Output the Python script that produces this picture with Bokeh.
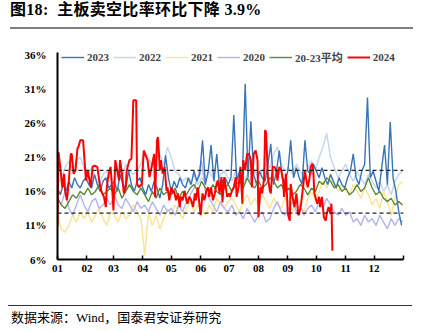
import numpy as np
from bokeh.plotting import figure
from bokeh.layouts import column
from bokeh.models import Range1d, FixedTicker, Span, Div, Legend, LegendItem
from bokeh.embed import file_html
from bokeh.resources import INLINE

# ---------------- data ----------------
month_labels = ["01", "02", "03", "04", "05", "06", "07", "08", "09", "10", "11", "12", ""]
month_start = [1, 32, 60, 91, 121, 152, 182, 213, 244, 274, 305, 335, 366]
y_ticks = [6, 11, 16, 21, 26, 31, 36]
upper_band = 19.1
lower_band = 12.8

# 2023, sampled every 3 days from Jan 1
v2023 = [16.5, 15.5, 17, 16, 17.5, 16.5, 18, 17, 16.5, 17.5, 18,
         17, 16.5, 18.5, 17, 16, 17.5, 18, 16.5, 17,
         17.5, 16, 18.5, 17, 16.5, 19, 17, 16, 17.5, 18,
         16.5, 15.5, 17, 16, 17.5, 16.5, 15, 17, 21.3, 18,
         16, 17.5, 16.5, 18, 17, 16.5, 18, 17, 19, 17.5,
         18.5, 23.5, 17, 19, 22.8, 17.5, 21.5, 16.5, 17.5, 18,
         17, 18, 27.2, 17.5, 19, 18, 31.8, 18, 26.3, 18.5,
         17, 19, 18, 17.5, 20, 23, 17, 19, 22, 18,
         17.5, 19, 23.5, 18, 19.5, 18, 17, 23.5, 19, 18.5,
         20, 19, 18, 19.5, 18, 17, 18.5, 17.5, 16.5, 18,
         17, 16.5, 18, 19, 21.5, 18, 17, 19, 20, 29.8,
         18, 19, 17.5, 16, 19.5, 22.8, 17, 26.2, 18, 16, 13, 11]

# 2022, 2021, 2020 and 20-23 average, sampled every 4 days from Jan 1
v2022 = [17, 18, 19.5, 20.5, 19, 20.5, 21, 19.5,
         18.5, 19.5, 18, 17, 18.5, 19, 18,
         17.5, 19, 18, 20, 19, 18.5, 19, 20,
         22, 21, 19.5, 20.5, 21.5, 20, 22.5,
         21, 19, 18.5, 17.5, 18, 17, 18.5, 17,
         18, 17.5, 19, 18, 17, 18.5, 19, 18,
         17.5, 19, 18, 17, 18.5, 17.5, 19,
         18, 19, 20, 19.5, 21.5, 22.5, 20, 19,
         19.5, 18.5, 20, 19, 18, 19.5, 20.5, 19,
         21, 22.5, 24.5, 21, 19.5, 18, 19,
         20, 18.5, 17.5, 19, 18, 17, 18.5, 17.5,
         16.5, 17.5, 16, 17, 15.5, 17.5, 18.5, 19]

v2021 = [12.5, 10.5, 10, 11, 12.5, 11.5, 13, 12,
         13, 11.5, 12.5, 13.5, 12, 11, 13,
         12.5, 11.5, 13, 12, 12.5, 14, 13, 12,
         6.6, 13, 11, 12.5, 10.5, 12, 13.5,
         12.5, 14, 13, 12, 13.5, 14.5, 13, 14,
         13.5, 12.5, 14, 13, 15, 14, 13.5, 14.5,
         15, 14, 13, 14.5, 15.5, 14, 15,
         14, 15.5, 14.5, 13.5, 15, 14, 13.5, 15,
         14.5, 13, 15.5, 14, 13, 15, 16, 14.5,
         16, 17.5, 16.5, 18, 17, 16, 17,
         16.5, 15.5, 17, 16, 15, 16.5, 15.5, 14,
         15, 13.5, 16, 14.5, 12.5, 15, 17, 17.5]

v2020 = [15, 14, 16, 13.5, 12.5, 14, 15.5, 14,
         13, 14.5, 15, 13.5, 14, 15, 14,
         15.5, 14, 13.5, 15, 14, 13, 14.5, 13.5,
         14, 13, 14.5, 13.5, 12.5, 14, 13,
         13.5, 12.5, 14, 13, 14.5, 15.5, 16.5, 18,
         20.5, 16, 15, 14, 13, 14.5, 13.5, 13,
         14, 12.5, 13, 12, 13.5, 12.5, 11.5,
         12.5, 13, 11.5, 12, 13.5, 14.5, 13, 12.5,
         13.5, 14.5, 13, 14, 12.5, 13.5, 14, 13,
         14.5, 13.5, 15, 14, 13, 12.5, 13.5,
         12.5, 13, 11.5, 12, 11, 12.5, 11.5, 12,
         11, 12.5, 11.5, 10.5, 12, 11, 12, 11.5]

vavg = [15, 14, 13.5, 14.5, 15.5, 15, 16, 15.5,
        16.5, 15.5, 16, 17, 15.5, 16, 16.5,
        15.5, 16.5, 15, 16, 17, 16, 15.5, 16.5,
        15.5, 14.5, 16, 15, 16.5, 15.5, 16,
        15.5, 16.5, 15, 16, 15.5, 16.5, 17, 16,
        17.5, 16.5, 16, 17, 16, 15.5, 16.5, 17,
        16, 17, 17.5, 16.5, 18, 17, 16.5,
        17.5, 16.5, 17, 18, 17.5, 16.5, 17, 16,
        16.5, 15.5, 16, 17, 16.5, 15.5, 16.5, 16,
        17.5, 17, 18, 17.5, 16.5, 17, 16,
        16.5, 15.5, 16, 17, 16, 16.5, 18, 16.5,
        15.5, 16, 15, 14.5, 15, 14, 14.5, 14]

# 2024 (day of year, value)
red_day = [1, 2, 4, 6, 8, 9, 11, 13, 15, 16, 18, 20, 22, 23, 25, 28, 30, 31, 33, 36,
           38, 40, 43, 45, 47, 50, 52, 53, 55, 57, 59, 60, 62, 64, 66, 67, 69, 71, 73, 74,
           77, 79, 81, 84, 85, 87, 90, 92, 96, 98, 101, 103, 104, 106, 107, 109, 110, 112, 114, 116,
           117, 119, 121, 123, 124, 126, 128, 130, 131, 133, 135, 137, 138, 140, 142, 144, 146, 147, 149, 151,
           152, 154, 156, 158, 160, 161, 163, 165, 167, 168, 170, 172, 174, 175, 177, 178, 180, 182, 183, 185,
           187, 189, 190, 192, 194, 196, 197, 199, 201, 203, 205, 206, 208, 210, 212, 213, 215, 217, 219, 220,
           221, 223, 225, 226, 228, 230, 232, 233, 235, 237, 239, 240, 242, 244, 246, 247, 249, 251, 253, 255,
           256, 258, 260, 262, 263, 265, 267, 268, 270, 271, 272, 273, 275, 277, 278, 280, 282, 284, 285, 287,
           289, 290, 291]
red_val = [10.8, 21.8, 19.5, 16.6, 18.6, 16.1, 14.7, 17.6, 21.5, 21.5, 18.6, 19.1, 22.3, 22.5, 23.5, 23.5, 19.6, 17.6, 19.1, 16.6,
           19.6, 19.8, 19.6, 17.6, 16.1, 15.2, 13.7, 16.6, 18.6, 19.6, 15.7, 13.2, 20.6, 19.1, 17.6, 20.6, 18.6, 15.7, 16.6, 19.1,
           20.6, 20.8, 29.4, 29.4, 17.1, 16.6, 17.1, 22.0, 20.6, 18.1, 20.1, 21.5, 15.2, 23.5, 24.0, 19.1, 20.6, 18.6, 19.6, 16.1,
           16.6, 14.7, 16.6, 15.7, 16.1, 14.7, 15.7, 13.7, 15.2, 14.7, 16.1, 14.7, 14.2, 15.2, 14.7, 13.7, 15.7, 14.7, 16.6, 13.7,
           12.5, 15.7, 14.7, 16.1, 16.6, 15.2, 16.6, 14.7, 15.7, 16.6, 17.6, 15.7, 18.1, 14.4, 18.1, 17.1, 15.2, 15.7, 15.2, 16.1,
           16.6, 18.1, 15.2, 16.6, 19.6, 14.2, 20.6, 19.1, 21.5, 21.5, 20.6, 16.6, 21.5, 22.0, 20.6, 12.2, 16.6, 15.7, 18.1, 25.0,
           24.7, 18.1, 16.1, 15.7, 19.6, 19.6, 19.1, 17.6, 19.6, 19.1, 17.6, 15.2, 18.6, 12.7, 11.7, 17.1, 15.2, 13.7, 15.7, 12.5,
           12.7, 14.2, 16.6, 19.1, 18.1, 16.6, 18.1, 19.6, 20.1, 18.6, 15.7, 15.2, 14.2, 15.2, 13.7, 15.2, 12.2, 11.7, 12.7, 13.7,
           12.7, 14.2, 7.3]

d2023 = 1 + 3 * np.arange(len(v2023))
d4 = 1 + 4 * np.arange(len(v2022))

# ---------------- figure ----------------
SERIF = "'Liberation Serif', 'Noto Sans CJK SC'"

p = figure(width=423, height=274, output_backend="svg", toolbar_location=None,
           title=None, x_range=Range1d(1, 366), y_range=Range1d(6, 36.4),
           min_border_left=57, min_border_right=20, min_border_top=21, min_border_bottom=46,
           margin=(0, 0, 0, 0))
p.outline_line_color = None
p.grid.visible = False
p.background_fill_color = "white"
p.border_fill_alpha = 0

r22 = p.line(d4, v2022, line_color="#C3D6EA", line_width=1.4)
r21 = p.line(d4, v2021, line_color="#FFE38F", line_width=1.4)
r20 = p.line(d4, v2020, line_color="#B3B3F2", line_width=1.4)
r23 = p.line(d2023, v2023, line_color="#3775B8", line_width=1.4)
ravg = p.line(d4, vavg, line_color="#5A8A3A", line_width=1.4)
r24 = p.line(red_day, red_val, line_color="#FF0000", line_width=2)

for loc in (upper_band, lower_band):
    p.add_layout(Span(location=loc, dimension="width", line_color="#222222",
                      line_width=1.3, line_dash="4 3"))

# axes
p.xaxis.ticker = FixedTicker(ticks=month_start)
p.xaxis.major_label_overrides = {d: m for d, m in zip(month_start, month_labels)}
p.yaxis.ticker = FixedTicker(ticks=y_ticks)
p.yaxis.major_label_overrides = {t: f"{t}%" for t in y_ticks}
for ax in (p.xaxis[0], p.yaxis[0]):
    ax.axis_line_color = "black"
    ax.axis_line_width = 2
    ax.major_label_text_font = "Liberation Serif"
    ax.major_label_text_font_style = "bold"
    ax.major_label_text_font_size = "11px"
    ax.major_label_text_color = "black"
    ax.minor_tick_line_color = None
p.xaxis.major_tick_in = 4
p.xaxis.major_tick_out = 0
p.xaxis.major_tick_line_width = 1.5
p.xaxis.major_tick_line_color = "black"
p.xaxis.major_label_standoff = 5
p.yaxis.major_tick_line_color = None
p.yaxis.major_label_standoff = 5

# legend (inside the top of the frame)
legend = Legend(items=[LegendItem(label="2023", renderers=[r23]),
                       LegendItem(label="2022", renderers=[r22]),
                       LegendItem(label="2021", renderers=[r21]),
                       LegendItem(label="2020", renderers=[r20]),
                       LegendItem(label="20-23平均", renderers=[ravg]),
                       LegendItem(label="2024", renderers=[r24])],
                orientation="horizontal", location=(4, 194),
                background_fill_alpha=0, border_line_color=None,
                label_text_font="Liberation Serif, Noto Sans CJK SC",
                label_text_font_style="bold",
                label_text_font_size="11px", glyph_width=23, glyph_height=10,
                label_height=10, label_standoff=3, spacing=4, padding=0, margin=0)
p.add_layout(legend)

title_div = Div(
    text=('<div style="margin:0 0 0 10px; padding:1px 0 0 0; height:20px; '
          'font-family:' + SERIF + '; '
          'font-weight:bold; font-size:16px; line-height:18px; color:#000; '
          'letter-spacing:0.3px; white-space:nowrap;">图18:&nbsp;&nbsp;主板卖空比率环比下降 3.9%</div>'
          '<div style="margin:7px 0 0 10px; width:403px; height:0px; '
          'border-top:2px solid #7f7f7f; font-size:0; line-height:0;">&nbsp;</div>'),
    width=423, height=31, margin=(0, 0, 0, 0),
    styles={"overflow": "visible", "position": "relative", "z-index": "10"})

source_div = Div(
    text=('<div style="margin:0 0 0 8px; width:404px; height:25px; '
          'border-top:1px solid #333; font-family:' + SERIF + '; '
          'font-size:13px; line-height:24px; color:#000; '
          'white-space:nowrap; padding-left:3px;">数据来源：Wind，国泰君安证券研究</div>'),
    width=423, height=26, margin=(0, 0, 0, 0))

layout = column(title_div, p, source_div, spacing=0)

open("out.html", "w").write(file_html(layout, INLINE))
